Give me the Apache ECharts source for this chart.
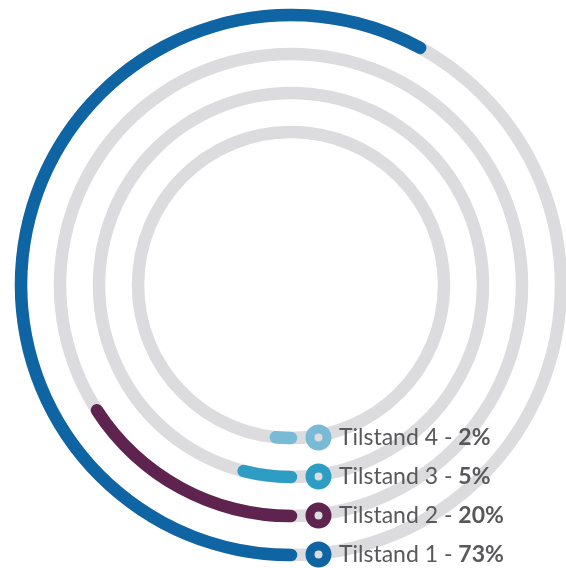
<!DOCTYPE html>
<html>
<head>
<meta charset="utf-8">
<script src="https://cdn.jsdelivr.net/npm/echarts@6/dist/echarts.min.js"></script>
<style>
html,body{margin:0;padding:0;background:#fff;}
#chart{width:566px;height:568px;}
</style>
</head>
<body>
<div id="chart"></div>
<script>
// Data (inner ring first)
const categories = ['Tilstand 4', 'Tilstand 3', 'Tilstand 2', 'Tilstand 1'];
const values = [2, 5, 20, 73];
const colors = ['#79bad7', '#2e9dc4', '#5f2350', '#0f64a3'];
const angleMax = 126;
const trackValues = [126, 126, 126, 126];

const chart = echarts.init(document.getElementById('chart'));

const series = [{
  name: 'track',
  type: 'bar',
  coordinateSystem: 'polar',
  stack: 'track',
  data: trackValues,
  barWidth: 12.5,
  barGap: '-100%',
  z: 1,
  itemStyle: { color: '#dcdcde' },
  silent: true,
  clip: false,
  animation: false
}];
categories.forEach((c, i) => {
  series.push({
    name: c,
    type: 'bar',
    coordinateSystem: 'polar',
    stack: 'rings',
    data: categories.map((cc, j) => j === i ? values[i] : '-'),
    barWidth: 12.5,
    barGap: '-100%',
    roundCap: true,
    z: 5,
    clip: false,
    itemStyle: { color: colors[i] },
    animation: false
  });
});

chart.setOption({
  animation: false,
  polar: { center: [291, 285], radius: [133.5, 289.5] },
  angleAxis: {
    type: 'value', min: 0, max: angleMax, startAngle: 270, clockwise: true,
    show: false
  },
  radiusAxis: {
    type: 'category', data: categories, show: false
  },
  legend: {
    orient: 'vertical',
    left: 305.5,
    top: 424.5,
    height: 200,
    padding: 0,
    itemGap: 13,
    itemWidth: 17,
    itemHeight: 17,
    icon: 'circle',
    selectedMode: false,
    data: categories.map((c, i) => ({
      name: c,
      itemStyle: { color: '#dcdcde', borderColor: colors[i], borderWidth: 9 }
    })),
    formatter: function (name) {
      const i = categories.indexOf(name);
      return '{n|' + name + ' - }{b|' + values[i] + '%}';
    },
    textStyle: {
      rich: {
        n: { fontFamily: 'Lato', fontSize: 23, color: '#58585a', lineHeight: 24, padding: [0, 0, 0, 7] },
        b: { fontFamily: 'Lato', fontSize: 23, fontWeight: 'bold', color: '#58585a', lineHeight: 24 }
      }
    }
  },
  series: series
});
</script>
</body>
</html>
